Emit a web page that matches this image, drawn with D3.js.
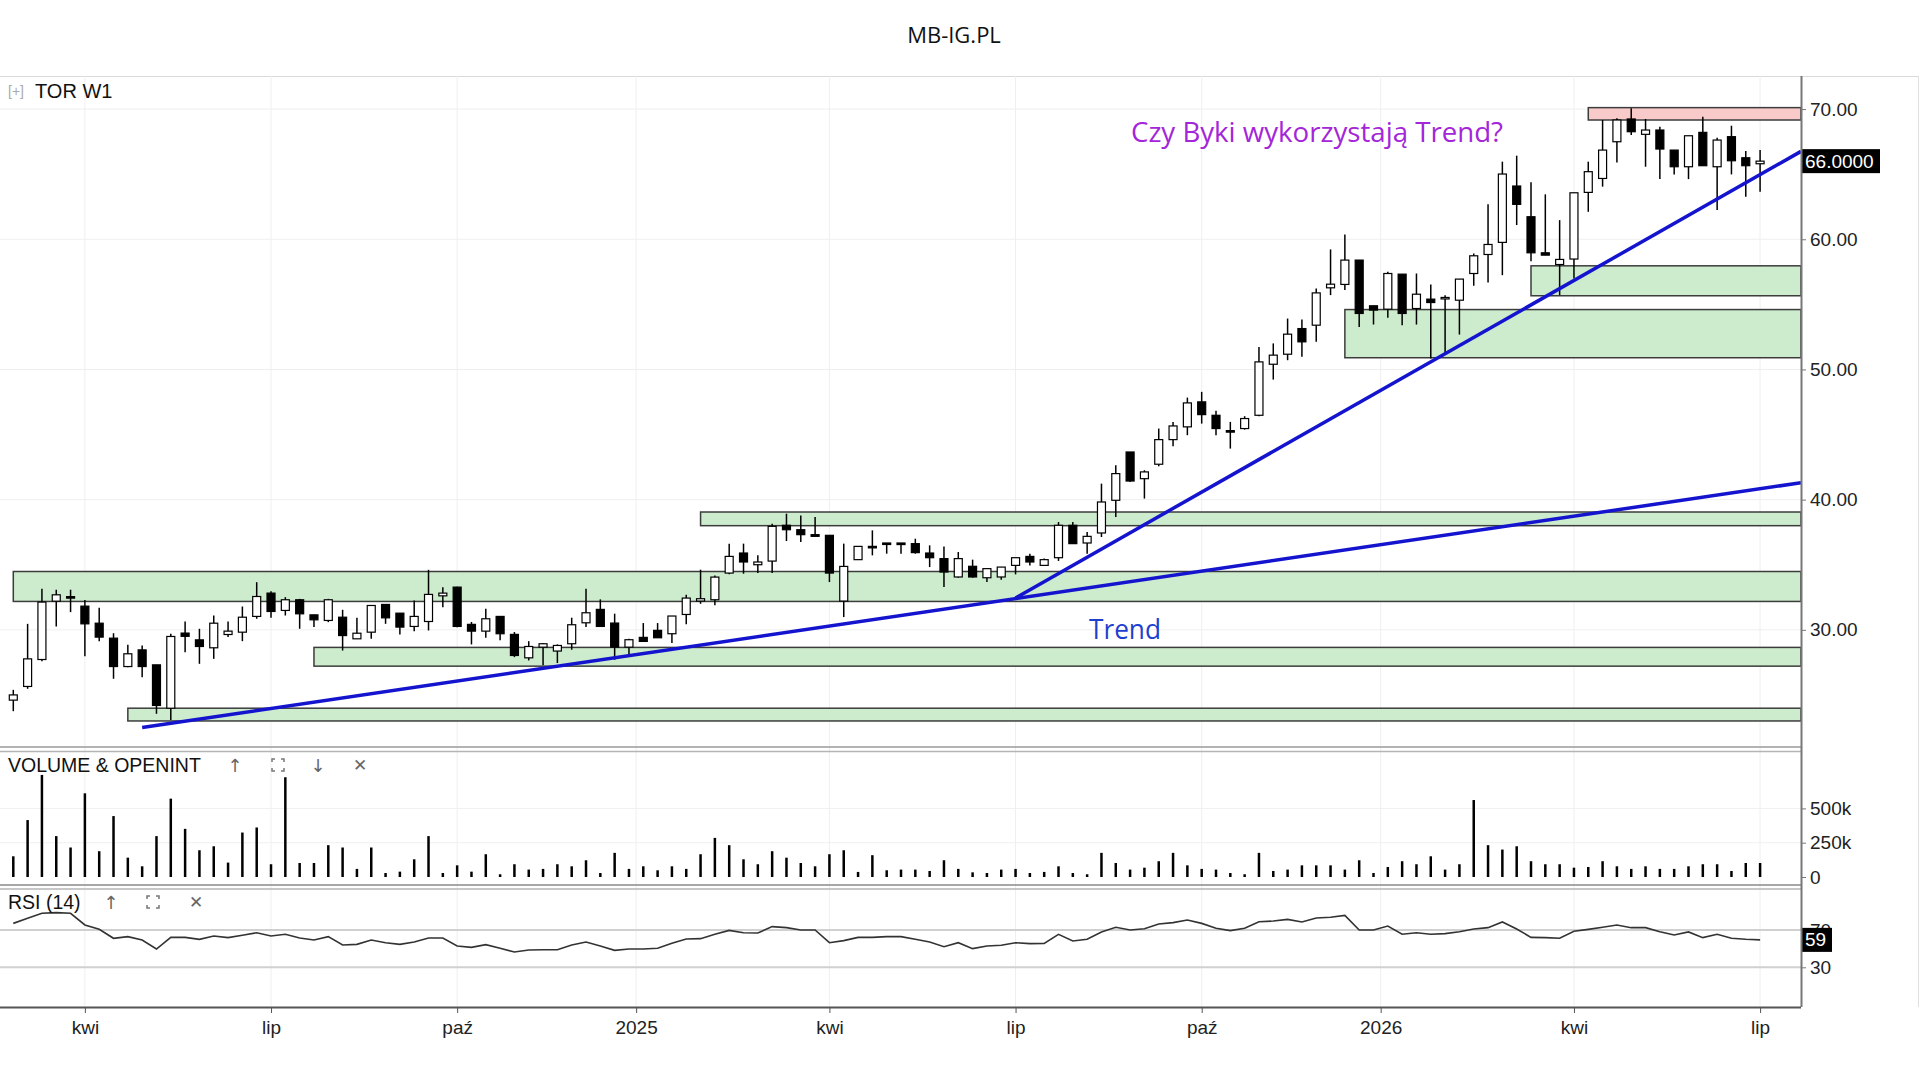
<!DOCTYPE html>
<html>
<head>
<meta charset="utf-8">
<script src="https://cdn.jsdelivr.net/npm/d3@7"></script>
<style>
  body { margin: 0; background: #fff; }
  #wrapper { width: 1920px; height: 1080px; }
</style>
</head>
<body>
<div id="wrapper"></div>
<script>
// weekly candles, first Monday of the series
const firstWeek = "2024-02-26"

const opens = [24.6, 25.65, 27.72, 32.2, 32.55, 31.82, 30.51, 29.36, 27.18, 28.46,
  27.31, 23.98, 29.75, 29.23, 28.62, 29.64, 29.82, 31.03, 32.82, 31.49,
  32.31, 31.15, 30.72, 30.97, 29.31, 29.82, 31.95, 31.28, 30.26, 30.64,
  32.61, 33.28, 30.42, 29.9, 31.03, 29.65, 27.85, 28.67, 28.37, 28.93,
  30.54, 31.57, 30.52, 28.67, 29.42, 29.96, 29.7, 31.18, 32.21, 32.31,
  34.36, 35.9, 35.0, 35.28, 38.03, 37.69, 37.31, 37.26, 32.21, 35.39,
  36.41, 36.67, 36.67, 36.62, 35.9, 35.47, 34.06, 34.88, 34.0, 34.06,
  34.95, 35.64, 34.95, 35.54, 38.03, 36.67, 37.44, 39.95, 43.66, 41.61,
  42.72, 44.61, 45.59, 47.51, 46.48, 45.3, 45.46, 46.48, 50.4, 51.17,
  53.14, 53.4, 56.27, 56.53, 58.4, 54.89, 54.63, 57.32, 54.68, 55.4,
  55.45, 55.32, 57.37, 58.83, 59.76, 64.09, 61.73, 58.96, 58.06, 58.48,
  63.6, 64.67, 67.49, 69.24, 68.06, 68.39, 66.85, 65.57, 68.21, 65.57,
  67.88, 66.26, 65.8]
const highs = [25.39, 30.46, 33.15, 33.08, 33.08, 32.3, 31.69, 29.74, 28.85, 28.8,
  27.31, 29.69, 30.64, 30.08, 31.1, 30.64, 31.79, 33.66, 32.97, 32.51,
  32.38, 31.15, 32.38, 31.54, 30.92, 31.87, 31.95, 31.28, 32.26, 34.61,
  33.28, 33.3, 30.6, 31.62, 31.03, 29.83, 29.13, 28.98, 28.88, 30.93,
  33.15, 32.34, 31.24, 29.31, 30.52, 30.52, 31.06, 32.7, 34.62, 34.18,
  36.62, 36.62, 35.72, 38.15, 38.92, 38.79, 38.67, 37.26, 36.62, 36.41,
  37.64, 36.67, 36.67, 37.0, 36.49, 36.41, 35.98, 35.39, 34.7, 34.82,
  35.54, 35.85, 35.47, 38.28, 38.28, 37.51, 41.23, 42.64, 43.66, 42.26,
  45.46, 45.97, 47.84, 48.28, 46.82, 45.97, 46.41, 51.73, 52.0, 53.91,
  53.84, 56.22, 59.22, 60.37, 58.4, 54.89, 57.5, 57.32, 57.37, 56.53,
  55.7, 56.94, 58.91, 62.68, 65.96, 66.42, 64.37, 63.45, 61.47, 63.57,
  65.96, 69.16, 69.29, 70.06, 69.24, 68.65, 66.85, 67.95, 69.41, 67.8,
  68.72, 66.77, 66.85]
const lows = [23.75, 25.47, 27.59, 30.26, 31.36, 27.98, 29.13, 26.24, 27.13, 26.36,
  23.55, 23.08, 28.28, 27.39, 27.77, 29.44, 29.13, 30.85, 30.92, 31.1,
  30.08, 30.21, 30.59, 28.41, 29.31, 29.31, 30.46, 29.64, 29.9, 29.95,
  31.74, 30.2, 28.88, 29.39, 29.19, 27.9, 27.65, 27.27, 27.45, 28.47,
  30.21, 30.26, 27.7, 28.11, 29.11, 29.39, 28.98, 30.42, 32.0, 31.88,
  34.26, 34.31, 34.36, 34.36, 36.82, 36.74, 37.18, 33.67, 30.98, 35.39,
  35.72, 35.85, 35.85, 35.85, 34.82, 33.29, 34.0, 34.0, 33.67, 33.85,
  34.26, 34.95, 34.95, 35.29, 36.62, 35.85, 37.13, 38.67, 41.36, 40.08,
  42.56, 44.1, 44.95, 45.84, 44.95, 43.92, 45.38, 46.41, 49.22, 50.71,
  50.97, 52.12, 55.71, 56.1, 53.27, 53.45, 53.97, 53.4, 53.45, 50.84,
  51.22, 52.68, 56.43, 56.68, 57.24, 61.09, 58.32, 58.78, 55.71, 56.99,
  62.11, 64.04, 65.9, 68.0, 65.57, 64.62, 64.98, 64.62, 65.65, 62.24,
  64.98, 63.27, 63.65]
const closes = [25.0, 27.77, 32.13, 32.69, 32.5, 30.46, 29.44, 27.18, 28.16, 27.18,
  24.19, 29.49, 29.5, 28.72, 30.51, 29.9, 30.97, 32.56, 31.41, 32.31,
  31.23, 30.77, 32.31, 29.56, 29.74, 31.87, 30.92, 30.21, 31.03, 32.72,
  32.82, 30.26, 29.9, 30.85, 29.7, 28.03, 28.72, 28.93, 28.8, 30.39,
  31.31, 30.26, 28.67, 29.24, 29.11, 29.39, 31.06, 32.44, 32.39, 34.05,
  35.64, 35.21, 35.21, 37.95, 37.69, 37.31, 37.18, 34.36, 34.87, 36.41,
  36.31, 36.62, 36.55, 35.93, 35.54, 34.44, 35.47, 34.06, 34.7, 34.82,
  35.54, 35.21, 35.39, 38.03, 36.62, 37.18, 39.82, 42.0, 41.43, 42.13,
  44.61, 45.66, 47.43, 46.53, 45.46, 45.28, 46.23, 50.58, 51.1, 52.71,
  52.12, 55.88, 56.55, 58.4, 54.3, 54.56, 57.37, 54.3, 55.78, 55.14,
  55.53, 56.94, 58.73, 59.6, 65.01, 62.68, 58.96, 58.78, 58.45, 63.57,
  65.19, 66.85, 69.16, 68.26, 68.39, 66.93, 65.57, 67.95, 65.65, 67.62,
  66.03, 65.65, 66.0]

// volume in thousands
const volumes = [151, 415, 744, 298, 215, 610, 188, 444, 141, 78,
  298, 571, 351, 195, 224, 105, 324, 361, 93, 727,
  102, 102, 232, 215, 59, 215, 29, 39, 129, 298,
  29, 85, 39, 166, 20, 93, 54, 59, 93, 78,
  122, 29, 176, 59, 78, 49, 78, 59, 166, 285,
  232, 129, 93, 188, 141, 102, 78, 166, 195, 37,
  159, 49, 54, 54, 44, 122, 59, 34, 29, 54,
  59, 29, 37, 78, 29, 20, 176, 102, 54, 68,
  115, 176, 85, 59, 54, 29, 20, 176, 44, 54,
  85, 85, 85, 54, 122, 29, 73, 115, 93, 151,
  54, 93, 561, 232, 200, 224, 115, 93, 93, 68,
  73, 115, 78, 59, 78, 59, 59, 78, 93, 93,
  44, 102, 102]

const rsiValues = [77.1, 82.5, 87.9, 88.6, 87.9, 75.4, 70.7, 61.1, 62.9, 59.3,
  49.6, 62.1, 62.1, 60.0, 63.6, 61.8, 64.3, 67.1, 63.6, 65.4,
  61.4, 59.3, 62.9, 53.9, 54.6, 59.3, 56.4, 54.6, 57.1, 61.4,
  61.4, 52.9, 51.4, 54.3, 50.4, 46.4, 48.6, 48.9, 48.9, 53.9,
  57.1, 52.9, 48.2, 49.6, 49.6, 50.4, 55.7, 60.4, 60.7, 65.4,
  69.6, 67.1, 66.8, 73.6, 72.5, 70.0, 70.0, 56.4, 58.6, 62.1,
  62.1, 62.9, 62.9, 60.0, 57.1, 52.1, 56.4, 50.0, 52.9, 53.6,
  56.4, 55.4, 55.7, 65.4, 58.2, 60.0, 67.9, 72.9, 70.0, 71.4,
  76.4, 77.9, 80.7, 77.1, 71.8, 69.3, 71.8, 78.9, 79.6, 81.4,
  78.6, 82.9, 83.6, 85.7, 70.0, 70.0, 74.3, 65.4, 67.1, 65.4,
  66.1, 68.2, 71.1, 72.5, 78.6, 71.1, 62.1, 61.8, 61.1, 68.6,
  70.7, 72.9, 75.4, 72.5, 72.5, 68.2, 64.6, 67.9, 61.8, 65.4,
  61.1, 60.0, 59.4]

const priceTicks = [30, 40, 50, 60, 70]
const volumeTicks = [0, 250, 500]
const rsiTicks = [30, 70]
const xTickDates = ["2024-04-01", "2024-07-01", "2024-09-30", "2024-12-26T12:00Z", "2025-03-31",
  "2025-06-30", "2025-09-29", "2025-12-25T12:00Z", "2026-03-30", "2026-06-29"]
const xTickLabels = ["kwi", "lip", "paź", "2025", "kwi", "lip", "paź", "2026", "kwi", "lip"]

// support / resistance zones: start week, low, high
const zoneStarts = ["2024-02-26", "2024-07-22", "2024-04-22", "2025-01-27", "2025-12-08", "2026-03-09", "2026-04-06"]
const zoneLows = [32.18, 27.21, 23.0, 38.0, 50.9, 55.66, 69.16]
const zoneHighs = [34.48, 28.65, 23.98, 39.05, 54.6, 57.96, 70.11]
const zoneKinds = ["support", "support", "support", "support", "support", "support", "resistance"]

// trend lines: [start date, start price, end price at right edge]
const trendStarts = ["2024-04-29", "2025-06-30"]
const trendStartPrices = [22.5, 32.45]
const trendEndPrices = [41.3, 66.75]

function drawChart() {
  let dimensions = {
    width: 1920,
    height: 1080,
    plotRight: 1801,
    main: { top: 76, bottom: 747 },
    volume: { top: 752, bottom: 886 },
    rsi: { top: 889, bottom: 1007 },
  }

  const candles = d3.utcMonday.range(d3.isoParse(firstWeek), d3.isoParse("2026-07-06"))
    .slice(0, closes.length)
    .map((date, i) => ({
      date,
      open: opens[i], high: highs[i], low: lows[i], close: closes[i],
      volume: volumes[i] * 1000, rsi: rsiValues[i],
    }))

  const wrapper = d3.select("#wrapper")
    .append("svg")
      .attr("width", dimensions.width)
      .attr("height", dimensions.height)
      .style("font-family", "'Liberation Sans', Arial, sans-serif")

  wrapper.append("rect")
    .attr("width", dimensions.width)
    .attr("height", dimensions.height)
    .attr("fill", "#fff")

  // scales
  const xScale = d3.scaleUtc()
    .domain([new Date(Date.UTC(2024, 1, 19, 12)), new Date(Date.UTC(2026, 6, 19))])
    .range([0, dimensions.plotRight])
  const yScale = d3.scaleLinear()
    .domain([21, 72.54])
    .range([dimensions.main.bottom, dimensions.main.top])
  const volScale = d3.scaleLinear()
    .domain([0, 250000])
    .range([877, 842.7])
  const rsiScale = d3.scaleLinear()
    .domain([30, 70])
    .range([967.3, 930])

  const xAccessor = d => xScale(d.date)
  const tickDates = xTickDates.map(d3.isoParse)

  // title
  wrapper.append("text")
    .attr("x", 954)
    .attr("y", 34)
    .attr("text-anchor", "middle")
    .attr("dominant-baseline", "central")
    .style("font-family", "'Open Sans', sans-serif")
    .style("font-size", "22px")
    .attr("fill", "#111")
    .text("MB-IG.PL")

  // frame
  wrapper.append("line")
    .attr("x1", 0).attr("x2", 1918)
    .attr("y1", dimensions.main.top + 0.5).attr("y2", dimensions.main.top + 0.5)
    .attr("stroke", "#d9d9d9")
  wrapper.append("line")
    .attr("x1", 1918.5).attr("x2", 1918.5)
    .attr("y1", dimensions.main.top).attr("y2", dimensions.rsi.bottom)
    .attr("stroke", "#e0e0e0")

  // vertical grid through all panels
  wrapper.append("g")
    .selectAll("line")
    .data(tickDates)
    .join("line")
      .attr("x1", d => xScale(d)).attr("x2", d => xScale(d))
      .attr("y1", dimensions.main.top).attr("y2", dimensions.rsi.bottom)
      .attr("stroke", "#efefef")

  // price grid
  wrapper.append("g")
    .selectAll("line")
    .data(priceTicks)
    .join("line")
      .attr("x1", 0).attr("x2", dimensions.plotRight)
      .attr("y1", d => yScale(d)).attr("y2", d => yScale(d))
      .attr("stroke", "#efefef")

  wrapper.append("clipPath")
      .attr("id", "main-clip")
    .append("rect")
      .attr("x", 0).attr("y", dimensions.main.top)
      .attr("width", dimensions.plotRight)
      .attr("height", dimensions.main.bottom - dimensions.main.top)

  const bounds = wrapper.append("g")
    .attr("clip-path", "url(#main-clip)")

  // zones
  const zones = zoneStarts.map((s, i) => ({
    start: d3.isoParse(s), low: zoneLows[i], high: zoneHighs[i], kind: zoneKinds[i],
  }))
  bounds.append("g")
    .selectAll("rect")
    .data(zones)
    .join("rect")
      .attr("x", d => xScale(d.start))
      .attr("y", d => yScale(d.high))
      .attr("width", d => dimensions.plotRight - xScale(d.start))
      .attr("height", d => yScale(d.low) - yScale(d.high))
      .attr("fill", d => d.kind == "support" ? "#cdebcd" : "#f8caca")
      .attr("stroke", "#3c3c3c")
      .attr("stroke-width", 1.5)

  // candles
  const candleGroups = bounds.append("g")
    .selectAll("g")
    .data(candles)
    .join("g")

  candleGroups.append("line")
    .attr("x1", xAccessor).attr("x2", xAccessor)
    .attr("y1", d => yScale(d.high))
    .attr("y2", d => yScale(d.low))
    .attr("stroke", "#000")
    .attr("stroke-width", 1.5)

  candleGroups.append("rect")
    .attr("x", d => xAccessor(d) - 4)
    .attr("width", 8)
    .attr("y", d => yScale(Math.max(d.open, d.close)))
    .attr("height", d => Math.max(1.5, Math.abs(yScale(d.open) - yScale(d.close))))
    .attr("fill", d => d.close >= d.open ? "#fff" : "#000")
    .attr("stroke", "#000")
    .attr("stroke-width", 1.2)

  // trend lines
  const trendLines = trendStarts.map((s, i) => ([
    [d3.isoParse(s), trendStartPrices[i]],
    [xScale.domain()[1], trendEndPrices[i]],
  ]))
  const lineGenerator = d3.line()
    .x(d => xScale(d[0]))
    .y(d => yScale(d[1]))
  bounds.append("g")
    .selectAll("path")
    .data(trendLines)
    .join("path")
      .attr("d", lineGenerator)
      .attr("fill", "none")
      .attr("stroke", "#1414cf")
      .attr("stroke-width", 3.5)

  // annotations
  wrapper.append("text")
    .attr("x", 1317).attr("y", 131)
    .attr("text-anchor", "middle")
    .attr("dominant-baseline", "central")
    .attr("textLength", 372)
    .attr("lengthAdjust", "spacingAndGlyphs")
    .style("font-family", "'Open Sans', sans-serif")
    .style("font-size", "27px")
    .attr("fill", "#a326d8")
    .text("Czy Byki wykorzystają Trend?")

  wrapper.append("text")
    .attr("x", 1125).attr("y", 628)
    .attr("text-anchor", "middle")
    .attr("dominant-baseline", "central")
    .attr("textLength", 72)
    .attr("lengthAdjust", "spacingAndGlyphs")
    .style("font-family", "'Open Sans', sans-serif")
    .style("font-size", "27px")
    .attr("fill", "#1f3fcf")
    .text("Trend")

  // panel header
  wrapper.append("text")
    .attr("x", 8).attr("y", 91)
    .attr("dominant-baseline", "central")
    .style("font-size", "14px")
    .attr("fill", "#aaa")
    .text("[+]")
  wrapper.append("text")
    .attr("x", 35).attr("y", 91)
    .attr("dominant-baseline", "central")
    .style("font-size", "20px")
    .attr("fill", "#111")
    .text("TOR W1")

  // price axis
  const yAxisGenerator = d3.axisRight(yScale)
    .tickValues(priceTicks)
    .tickSize(4)
    .tickPadding(4)
    .tickFormat(d3.format(".2f"))
  const yAxis = wrapper.append("g")
    .attr("transform", `translate(${dimensions.plotRight + 1}, 0)`)
    .call(yAxisGenerator)
  yAxis.select(".domain").remove()
  yAxis.selectAll("text").style("font-size", "19px").attr("fill", "#222")
  yAxis.selectAll("line").attr("stroke", "#777")

  // last price label
  const last = candles[candles.length - 1]
  wrapper.append("rect")
    .attr("x", dimensions.plotRight + 1)
    .attr("y", yScale(last.close) - 12)
    .attr("width", 78).attr("height", 24)
    .attr("fill", "#000")
  wrapper.append("text")
    .attr("x", dimensions.plotRight + 4)
    .attr("y", yScale(last.close))
    .attr("dominant-baseline", "central")
    .style("font-size", "19px")
    .attr("fill", "#fff")
    .text(d3.format(".4f")(last.close))

  // panel separators
  const separators = [
    { y: dimensions.main.bottom, color: "#9a9a9a" },
    { y: dimensions.volume.top - 0.5, color: "#b5b5b5" },
    { y: dimensions.volume.bottom - 1, color: "#8a8a8a" },
    { y: dimensions.rsi.top, color: "#b5b5b5" },
  ]
  wrapper.append("g")
    .selectAll("line")
    .data(separators)
    .join("line")
      .attr("x1", 0).attr("x2", dimensions.plotRight)
      .attr("y1", d => d.y).attr("y2", d => d.y)
      .attr("stroke", d => d.color)
      .attr("stroke-width", 1.5)

  // volume panel
  wrapper.append("g")
    .selectAll("line")
    .data(volumeTicks.slice(1))
    .join("line")
      .attr("x1", 0).attr("x2", dimensions.plotRight)
      .attr("y1", d => volScale(d * 1000)).attr("y2", d => volScale(d * 1000))
      .attr("stroke", "#f0f0f0")

  wrapper.append("g")
    .selectAll("line")
    .data(candles)
    .join("line")
      .attr("x1", xAccessor).attr("x2", xAccessor)
      .attr("y1", volScale(0))
      .attr("y2", d => volScale(d.volume))
      .attr("stroke", "#000")
      .attr("stroke-width", 2.5)

  const volAxisGenerator = d3.axisRight(volScale)
    .tickValues(volumeTicks.map(d => d * 1000))
    .tickSize(4)
    .tickPadding(4)
    .tickFormat(d => d == 0 ? "0" : d / 1000 + "k")
  const volAxis = wrapper.append("g")
    .attr("transform", `translate(${dimensions.plotRight + 1}, 0)`)
    .call(volAxisGenerator)
  volAxis.select(".domain").remove()
  volAxis.selectAll("text").style("font-size", "19px").attr("fill", "#222")
  volAxis.selectAll("line").attr("stroke", "#777")

  // header icons helper
  const drawIcons = (y, icons) => {
    icons.forEach(icon => {
      if (icon.type == "frame") {
        const s = 6, c = 3
        const corners = [[-1, -1], [1, -1], [-1, 1], [1, 1]]
        wrapper.append("g")
          .selectAll("path")
          .data(corners)
          .join("path")
            .attr("d", ([dx, dy]) => `M${icon.x + dx * s},${y + dy * (s - c)} L${icon.x + dx * s},${y + dy * s} L${icon.x + dx * (s - c)},${y + dy * s}`)
            .attr("fill", "none")
            .attr("stroke", "#777")
            .attr("stroke-width", 1.5)
      } else {
        wrapper.append("text")
          .attr("x", icon.x).attr("y", y)
          .attr("text-anchor", "middle")
          .attr("dominant-baseline", "central")
          .style("font-family", "'DejaVu Sans', sans-serif")
          .style("font-size", icon.type == "close" ? "17px" : "18px")
          .attr("fill", "#666")
          .text(icon.type == "up" ? "↑" : icon.type == "down" ? "↓" : "✕")
      }
    })
  }

  wrapper.append("text")
    .attr("x", 8).attr("y", 765)
    .attr("dominant-baseline", "central")
    .style("font-size", "19.5px")
    .attr("fill", "#111")
    .text("VOLUME & OPENINT")
  drawIcons(765, [
    { x: 235, type: "up" }, { x: 278, type: "frame" },
    { x: 318, type: "down" }, { x: 360, type: "close" },
  ])

  // RSI panel
  wrapper.append("g")
    .selectAll("line")
    .data(rsiTicks)
    .join("line")
      .attr("x1", 0).attr("x2", dimensions.plotRight)
      .attr("y1", d => rsiScale(d)).attr("y2", d => rsiScale(d))
      .attr("stroke", "#d0d0d0")
      .attr("stroke-width", 2)

  const rsiLine = d3.line()
    .x(xAccessor)
    .y(d => rsiScale(d.rsi))
  wrapper.append("path")
    .attr("d", rsiLine(candles))
    .attr("fill", "none")
    .attr("stroke", "#333")
    .attr("stroke-width", 1.6)

  wrapper.append("text")
    .attr("x", 8).attr("y", 902)
    .attr("dominant-baseline", "central")
    .style("font-size", "19.5px")
    .attr("fill", "#111")
    .text("RSI (14)")
  drawIcons(902, [
    { x: 111, type: "up" }, { x: 153, type: "frame" }, { x: 196, type: "close" },
  ])

  const rsiAxisGenerator = d3.axisRight(rsiScale)
    .tickValues(rsiTicks)
    .tickSize(4)
    .tickPadding(4)
  const rsiAxis = wrapper.append("g")
    .attr("transform", `translate(${dimensions.plotRight + 1}, 0)`)
    .call(rsiAxisGenerator)
  rsiAxis.select(".domain").remove()
  rsiAxis.selectAll("text").style("font-size", "19px").attr("fill", "#222")
  rsiAxis.selectAll("line").attr("stroke", "#777")

  wrapper.append("rect")
    .attr("x", dimensions.plotRight + 1)
    .attr("y", rsiScale(last.rsi) - 12)
    .attr("width", 30).attr("height", 24)
    .attr("fill", "#000")
  wrapper.append("text")
    .attr("x", dimensions.plotRight + 4)
    .attr("y", rsiScale(last.rsi))
    .attr("dominant-baseline", "central")
    .style("font-size", "19px")
    .attr("fill", "#fff")
    .text(d3.format(".0f")(last.rsi))

  // right axis line
  wrapper.append("line")
    .attr("x1", dimensions.plotRight + 0.5).attr("x2", dimensions.plotRight + 0.5)
    .attr("y1", dimensions.main.top).attr("y2", dimensions.rsi.bottom)
    .attr("stroke", "#777")
    .attr("stroke-width", 2)

  // time axis
  const xAxisGenerator = d3.axisBottom(xScale)
    .tickValues(tickDates)
    .tickSize(6)
    .tickPadding(8)
    .tickFormat((d, i) => xTickLabels[i])
  const xAxis = wrapper.append("g")
    .attr("transform", `translate(0, ${dimensions.rsi.bottom})`)
    .call(xAxisGenerator)
  xAxis.select(".domain")
    .attr("d", `M0,0.5H${dimensions.plotRight}`)
    .attr("stroke", "#555")
    .attr("stroke-width", 2)
  xAxis.selectAll("text").style("font-size", "19px").attr("fill", "#222")
  xAxis.selectAll("line").attr("stroke", "#555")
}

drawChart()
</script>
</body>
</html>
